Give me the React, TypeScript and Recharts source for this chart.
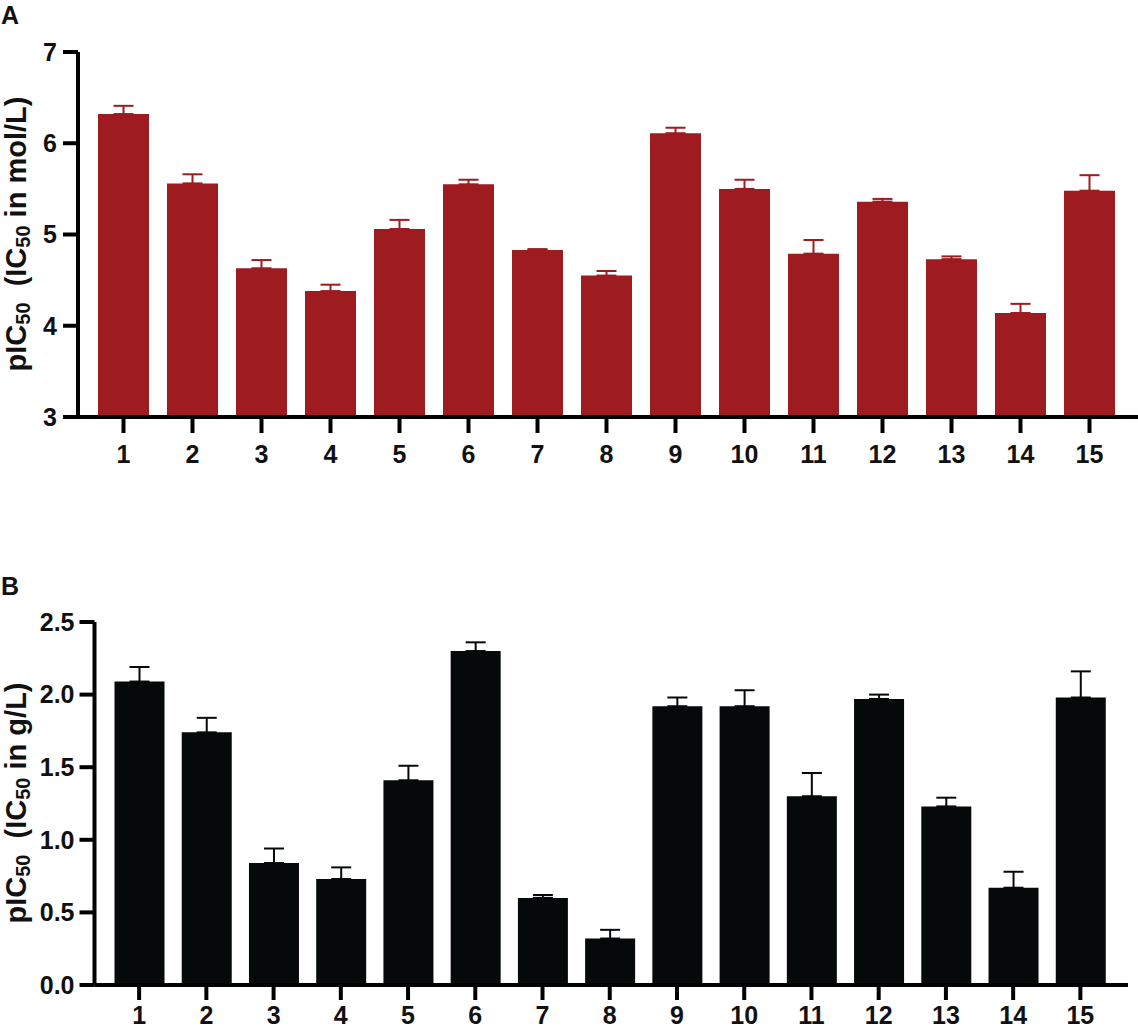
import React from 'react';
import { BarChart, Bar, XAxis, YAxis, ErrorBar } from 'recharts';

const compounds = ['1', '2', '3', '4', '5', '6', '7', '8', '9', '10', '11', '12', '13', '14', '15'];
const molMeans = [6.32, 5.56, 4.63, 4.38, 5.06, 5.55, 4.83, 4.55, 6.11, 5.5, 4.79, 5.36, 4.73, 4.14, 5.48];
const molErr = [0.09, 0.1, 0.09, 0.07, 0.1, 0.05, 0.01, 0.05, 0.06, 0.1, 0.15, 0.03, 0.03, 0.1, 0.17];
const gMeans = [2.09, 1.74, 0.84, 0.73, 1.41, 2.3, 0.6, 0.32, 1.92, 1.92, 1.3, 1.97, 1.23, 0.67, 1.98];
const gErr = [0.1, 0.1, 0.1, 0.08, 0.1, 0.06, 0.02, 0.06, 0.06, 0.11, 0.16, 0.03, 0.06, 0.11, 0.18];
const molTicks = [3, 4, 5, 6, 7];
const gTicks = [0, 0.5, 1, 1.5, 2, 2.5];

const molData = compounds.map((c, i) => ({ name: c, value: molMeans[i], err: [0, molErr[i]] }));
const gData = compounds.map((c, i) => ({ name: c, value: gMeans[i], err: [0, gErr[i]] }));

const FONT = '"Liberation Sans", Arial, Helvetica, sans-serif';
const RED = '#9e1b20';
const BLACK = '#050909';

const tickStyle = { fill: '#111', fontSize: 25, fontWeight: 700, fontFamily: FONT };
const axisLine = { stroke: '#000', strokeWidth: 4 };
const tickLine = { stroke: '#000', strokeWidth: 4 };

function YTitle({ x, y, unit }: { x: number; y: number; unit: string }) {
  return (
    <text
      x={x}
      y={y}
      transform={`rotate(-90 ${x} ${y})`}
      textAnchor="middle"
      fontFamily={FONT}
      fontWeight={700}
      fontSize={29}
      fill="#111"
    >
      <tspan>pIC</tspan>
      <tspan fontSize={20} dy={4}>50</tspan>
      <tspan dy={-4}>{'\u00a0\u00a0(IC'}</tspan>
      <tspan fontSize={20} dy={4}>50</tspan>
      <tspan dy={-4}>{` in ${unit})`}</tspan>
    </text>
  );
}

export default function App() {
  return (
    <div style={{ position: 'absolute', left: 0, top: 0, width: 1138, height: 1029, background: '#fff' }}>
      <div style={{ position: 'absolute', left: 0, top: 0 }}>
        <BarChart width={1138} height={500} data={molData} margin={{ top: 52, right: 0, left: 18, bottom: 0 }}>
          <XAxis
            dataKey="name"
            height={83}
            padding={{ left: 11, right: 14 }}
            axisLine={axisLine}
            tickLine={tickLine}
            tickSize={16}
            tickMargin={12}
            tick={tickStyle}
            interval={0}
          />
          <YAxis
            type="number"
            domain={[3, 7]}
            ticks={molTicks}
            allowDataOverflow
            width={60}
            axisLine={axisLine}
            tickLine={tickLine}
            tickSize={15}
            tickMargin={6}
            tick={tickStyle}
          />
          <Bar dataKey="value" fill={RED} barSize={51} isAnimationActive={false}>
            <ErrorBar dataKey="err" width={10} strokeWidth={2} stroke={RED} direction="y" />
          </Bar>
        </BarChart>
      </div>
      <div style={{ position: 'absolute', left: 0, top: 520 }}>
        <BarChart width={1138} height={509} data={gData} margin={{ top: 102, right: 10, left: 34.5, bottom: 0 }}>
          <XAxis
            dataKey="name"
            height={44}
            padding={{ left: 11, right: 14 }}
            axisLine={axisLine}
            tickLine={tickLine}
            tickSize={15}
            tickMargin={6}
            tick={tickStyle}
            interval={0}
          />
          <YAxis
            type="number"
            domain={[0, 2.5]}
            ticks={gTicks}
            allowDataOverflow
            width={60}
            axisLine={axisLine}
            tickLine={tickLine}
            tickSize={15}
            tickMargin={5}
            tick={tickStyle}
            tickFormatter={(v: number) => v.toFixed(1)}
          />
          <Bar dataKey="value" fill={BLACK} barSize={50} isAnimationActive={false}>
            <ErrorBar dataKey="err" width={10} strokeWidth={2} stroke={BLACK} direction="y" />
          </Bar>
        </BarChart>
      </div>
      <svg width={1138} height={1029} style={{ position: 'absolute', left: 0, top: 0, pointerEvents: 'none' }}>
        <text x={1} y={24} fontFamily={FONT} fontWeight={700} fontSize={25} fill="#111">A</text>
        <text x={1} y={595} fontFamily={FONT} fontWeight={700} fontSize={25} fill="#111">B</text>
        <YTitle x={26} y={234} unit="mol/L" />
        <YTitle x={26} y={803} unit="g/L" />
      </svg>
    </div>
  );
}
